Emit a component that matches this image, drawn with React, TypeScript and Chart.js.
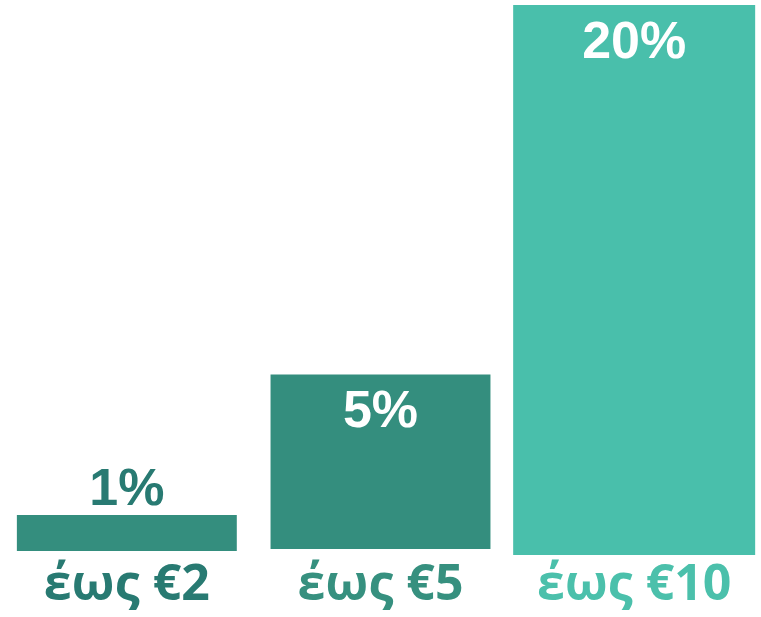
import React, { useEffect, useRef } from "react";
import { Chart, registerables } from "chart.js";

Chart.register(...registerables);

const categories = ["έως €2", "έως €5", "έως €10"];
const valueLabels = ["1%", "5%", "20%"];
// bar extents, in chart units (floating bars)
const barBottoms = [0.8, 1.2, 0];
const barTops = [8.0, 36.1, 110];

const barColors = ["#348e7e", "#348e7e", "#49bfab"];
const categoryColors = ["#287a72", "#36907f", "#4bc0ab"];
const barWidthShares = [0.867, 0.867, 0.954];

const valueLabelPlugin = {
  id: "valueLabels",
  afterDatasetsDraw(chart: any) {
    const ctx = chart.ctx;
    ctx.save();
    ctx.font = "bold 52px 'Liberation Sans', Arial, sans-serif";
    ctx.textAlign = "center";
    ctx.textBaseline = "middle";
    chart.data.datasets.forEach((_: any, i: number) => {
      const el = chart.getDatasetMeta(i).data[i];
      if (!el) return;
      const h = Math.abs(el.base - el.y);
      if (h < 60) {
        ctx.fillStyle = categoryColors[0];
        ctx.fillText(valueLabels[i], el.x, el.y - 24.5);
      } else {
        ctx.fillStyle = "#ffffff";
        ctx.fillText(valueLabels[i], el.x, el.y + 38.5);
      }
    });
    ctx.restore();
  },
};

export default function App() {
  const ref = useRef<HTMLCanvasElement | null>(null);

  useEffect(() => {
    document.body.style.margin = "0";
    const canvas = ref.current!;
    const chart = new Chart(canvas, {
      type: "bar",
      data: {
        labels: categories,
        datasets: categories.map((_, i) => ({
          label: categories[i],
          data: categories.map((__, j) =>
            j === i ? [barBottoms[i], barTops[i]] : null
          ) as any,
          backgroundColor: barColors[i],
          borderWidth: 0,
          grouped: false,
          barPercentage: barWidthShares[i],
          categoryPercentage: 1,
        })),
      },
      options: {
        responsive: false,
        animation: false,
        layout: { padding: { top: 5, bottom: 0, left: 0, right: 0 } },
        plugins: {
          legend: { display: false },
          tooltip: { enabled: false },
        },
        scales: {
          x: {
            grid: { display: false, drawTicks: false },
            border: { display: false },
            ticks: {
              padding: 1,
              color: categoryColors,
              font: { family: "'Open Sans', sans-serif", weight: "bold", size: 50 },
            },
          },
          y: {
            display: false,
            min: 0,
            max: 110,
          },
        },
      },
      plugins: [valueLabelPlugin],
    });
    return () => chart.destroy();
  }, []);

  return <canvas ref={ref} width={761} height={617} style={{ display: "block" }} />;
}
